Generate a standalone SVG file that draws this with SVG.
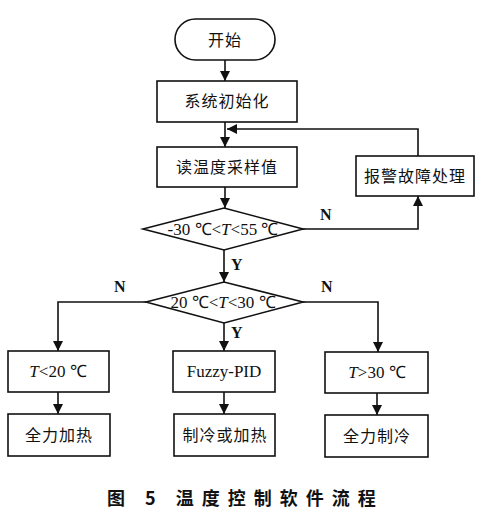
<svg xmlns="http://www.w3.org/2000/svg" width="487" height="514" viewBox="0 0 487 514">
<style>
.box{fill:#fff;stroke:#111;stroke-width:1.6}
.ln{fill:none;stroke:#111;stroke-width:1.6}
.cn{font-family:"Noto Sans CJK SC",sans-serif;font-size:16px;fill:#111;text-anchor:middle;letter-spacing:1px}
.lt{font-family:"Liberation Serif",serif;font-size:17px;fill:#111;text-anchor:middle}
.lb{font-family:"Liberation Serif",serif;font-size:16px;fill:#111;font-weight:bold}
.cap{font-family:"Noto Sans CJK SC",sans-serif;font-size:18px;fill:#111;font-weight:bold;letter-spacing:8px}
</style>
<defs>
<marker id="ah" viewBox="0 0 10 10" refX="10" refY="5" markerWidth="10" markerHeight="10" markerUnits="userSpaceOnUse" orient="auto">
<path d="M0,0 L10,5 L0,10 z" fill="#111"/>
</marker>
</defs>
<rect width="487" height="514" fill="#fff"/>
<g id="connectors">
<line class="ln" x1="225" y1="60" x2="225" y2="81" marker-end="url(#ah)"/>
<line class="ln" x1="225" y1="122" x2="225" y2="147" marker-end="url(#ah)"/>
<line class="ln" x1="225" y1="187" x2="225" y2="208" marker-end="url(#ah)"/>
<polyline class="ln" points="418,156 418,129 227,129" marker-end="url(#ah)"/>
<polyline class="ln" points="303,229 418,229 418,196" marker-end="url(#ah)"/>
<line class="ln" x1="224" y1="250" x2="224" y2="282" marker-end="url(#ah)"/>
<line class="ln" x1="224" y1="323" x2="224" y2="351" marker-end="url(#ah)"/>
<polyline class="ln" points="146,302 58,302 58,351" marker-end="url(#ah)"/>
<polyline class="ln" points="303,302 378,302 378,352" marker-end="url(#ah)"/>
<line class="ln" x1="58" y1="392" x2="58" y2="414" marker-end="url(#ah)"/>
<line class="ln" x1="224" y1="392" x2="224" y2="414" marker-end="url(#ah)"/>
<line class="ln" x1="377" y1="393" x2="377" y2="415" marker-end="url(#ah)"/>
<text class="lb" x="320" y="220">N</text>
<text class="lb" x="231" y="270">Y</text>
<text class="lb" x="114" y="292">N</text>
<text class="lb" x="321" y="292">N</text>
<text class="lb" x="231" y="338">Y</text>
</g>
<g id="start">
<rect class="box" x="175" y="19" width="100" height="41" rx="20.5"/>
<text class="cn" x="225" y="46">开始</text>
</g>
<g id="init">
<rect class="box" x="157" y="81" width="140" height="41"/>
<text class="cn" x="227" y="107">系统初始化</text>
</g>
<g id="read">
<rect class="box" x="157" y="147" width="140" height="40"/>
<text class="cn" x="227" y="173">读温度采样值</text>
</g>
<g id="alarm">
<rect class="box" x="356" y="156" width="118" height="40"/>
<text class="cn" x="415" y="182">报警故障处理</text>
</g>
<g id="cond1">
<polygon class="box" points="143,229 224,208 303,229 224,250"/>
<text class="lt" x="223" y="235">-30 ℃&lt;<tspan font-style="italic">T</tspan>&lt;55 ℃</text>
</g>
<g id="cond2">
<polygon class="box" points="146,302 224,282 303,302 224,323"/>
<text class="lt" x="223" y="308">20 ℃&lt;<tspan font-style="italic">T</tspan>&lt;30 ℃</text>
</g>
<g id="low">
<rect class="box" x="8" y="351" width="101" height="41"/>
<text class="lt" x="58" y="377"><tspan font-style="italic">T</tspan>&lt;20 ℃</text>
</g>
<g id="fuzzy">
<rect class="box" x="173" y="351" width="102" height="41"/>
<text class="lt" x="224" y="377">Fuzzy-PID</text>
</g>
<g id="high">
<rect class="box" x="325" y="352" width="103" height="41"/>
<text class="lt" x="377" y="378"><tspan font-style="italic">T</tspan>&gt;30 ℃</text>
</g>
<g id="heat">
<rect class="box" x="8" y="414" width="102" height="42"/>
<text class="cn" x="59" y="441">全力加热</text>
</g>
<g id="pid">
<rect class="box" x="174" y="414" width="101" height="42"/>
<text class="cn" x="225" y="441">制冷或加热</text>
</g>
<g id="cool">
<rect class="box" x="325" y="415" width="103" height="42"/>
<text class="cn" x="377" y="442">全力制冷</text>
</g>
<text class="cap" x="107" y="505">图 5  温度控制软件流程</text>
</svg>
